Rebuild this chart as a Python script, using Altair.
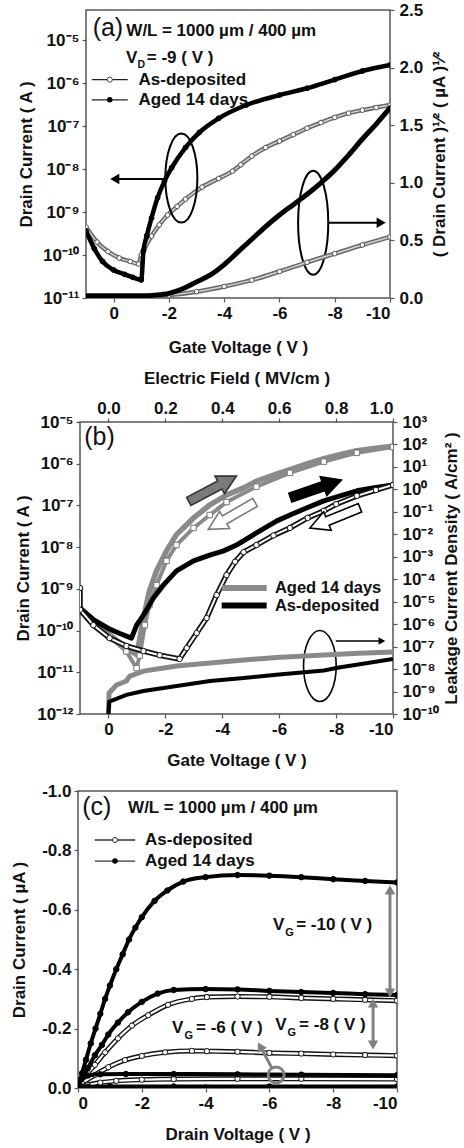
import altair as alt
import pandas as pd

FONT = "Liberation Sans"
SUPMAP = str.maketrans("-0123456789", "⁻⁰¹²³⁴⁵⁶⁷⁸⁹")

# ======================= DATA =======================
# ---- Panel (a): transfer curves, V_D = -9 V (log10 of drain current in A) ----
a_asdep_V = [1.0, 0.6, 0.2, -0.2, -0.6, -0.9, -1.0, -1.12, -1.37, -1.65, -1.95, -2.3, -2.6, -3.2,
             -3.8, -4.3, -4.6, -5.0, -5.5, -6.0, -6.5, -7.0, -7.5, -8.0, -8.5, -9.0, -9.5, -10.0]
a_asdep_logI = [-9.35, -9.7, -9.92, -10.07, -10.15, -10.21, -10.0, -9.84, -9.56, -9.3, -9.07, -8.87, -8.7,
                -8.42, -8.22, -8.05, -7.9, -7.7, -7.5, -7.35, -7.2, -7.05, -6.92, -6.8, -6.7, -6.63, -6.57, -6.51]
a_aged_V = [1.0, 0.7, 0.4, 0.0, -0.4, -0.7, -1.0, -1.08, -1.2, -1.37, -1.59, -1.84, -2.1, -2.6, -3.1,
            -3.8, -4.8, -6.0, -7.0, -8.0, -9.0, -10.0]
a_aged_logI = [-9.44, -9.85, -10.15, -10.35, -10.45, -10.52, -10.58, -9.9, -9.55, -9.14, -8.67, -8.28,
               -7.97, -7.5, -7.15, -6.82, -6.51, -6.28, -6.12, -5.92, -5.72, -5.58]
# sqrt(drain current) in uA^1/2
a_sq_aged_V = [1.0, 0.0, -1.0, -1.5, -2.0, -2.5, -3.0, -3.5, -4.0, -4.5, -5.0, -5.5, -6.0, -6.5, -7.0,
               -7.5, -8.0, -8.5, -9.0, -9.5, -10.0]
a_sq_aged = [0.02, 0.02, 0.02, 0.025, 0.04, 0.08, 0.14, 0.2, 0.29, 0.4, 0.51, 0.62, 0.72, 0.81, 0.9,
             1.0, 1.11, 1.24, 1.38, 1.51, 1.65]
a_sq_asdep_V = [1.0, 0.0, -1.0, -2.0, -3.0, -4.0, -5.0, -6.0, -7.0, -8.0, -9.0, -10.0]
a_sq_asdep = [0.01, 0.01, 0.01, 0.025, 0.055, 0.1, 0.155, 0.23, 0.31, 0.385, 0.46, 0.53]

# ---- Panel (b): hysteresis (log10 drain current, A) and leakage (log10 A/cm^2) ----
b_asdep_fwd_V = [1.0, 0.5, 0.0, -0.4, -0.81, -0.99, -1.23, -1.58, -1.93, -2.39, -2.99, -3.56, -4.05,
                 -4.5, -5.2, -5.92, -6.38, -7.0, -7.57, -8.2, -8.73, -9.4, -10.0]
b_asdep_fwd_logI = [-9.46, -9.75, -9.95, -10.07, -10.18, -9.87, -9.63, -9.22, -8.91, -8.57, -8.33, -8.19,
                    -8.09, -7.95, -7.66, -7.37, -7.23, -7.05, -6.89, -6.76, -6.65, -6.57, -6.51]
b_asdep_rev_V = [-10.0, -9.4, -8.73, -8.0, -7.57, -7.0, -6.38, -5.8, -5.2, -4.75, -4.45, -4.15, -3.8,
                 -3.45, -3.1, -2.75, -2.5, -1.8, -1.23, -0.63, -0.04, 0.53, 1.0, 1.0]
b_asdep_rev_logI = [-6.51, -6.63, -6.77, -6.97, -7.13, -7.3, -7.54, -7.72, -7.95, -8.12, -8.35, -8.67,
                    -9.15, -9.7, -10.06, -10.42, -10.68, -10.59, -10.49, -10.37, -10.18, -9.87, -9.5, -8.98]
b_aged_fwd_V = [1.0, 0.5, -0.04, -0.63, -0.99, -1.1, -1.23, -1.44, -1.69, -2.04, -2.39, -2.99, -3.56,
                -4.15, -4.75, -5.2, -5.9, -6.38, -7.0, -7.57, -8.2, -8.73, -9.4, -10.0]
b_aged_fwd_logI = [-9.46, -9.8, -10.1, -10.42, -10.58, -10.2, -9.7, -9.05, -8.57, -8.09, -7.7, -7.3,
                   -6.99, -6.75, -6.58, -6.42, -6.25, -6.14, -6.0, -5.88, -5.77, -5.69, -5.63, -5.58]
b_aged_rev_V = [-10.0, -8.73, -7.57, -6.38, -5.2, -4.15, -3.56, -2.99, -2.39, -2.04, -1.69, -1.44, -1.28,
                -1.1, -0.99, -0.63, -0.04, 0.5, 1.0]
b_aged_rev_logI = [-5.6, -5.74, -5.95, -6.22, -6.55, -6.92, -7.23, -7.54, -7.95, -8.33, -8.91, -9.39,
                   -9.87, -10.6, -10.9, -10.5, -10.15, -9.8, -9.5]
b_leak_aged_E = [0.0, 0.002, 0.028, 0.05, 0.063, 0.075, 0.123, 0.24, 0.357, 0.475, 0.59, 0.757, 0.88, 1.0]
b_leak_aged_logJ = [-10.0, -9.07, -8.71, -8.6, -8.53, -8.31, -8.09, -7.86, -7.73, -7.6, -7.48, -7.37, -7.3, -7.24]
b_leak_asdep_E = [0.0, 0.003, 0.063, 0.123, 0.24, 0.357, 0.475, 0.59, 0.757, 0.81, 0.9, 1.0]
b_leak_asdep_logJ = [-10.0, -9.45, -9.15, -8.98, -8.75, -8.53, -8.4, -8.25, -8.06, -7.93, -7.75, -7.55]

# ---- Panel (c): output curves (drain current, uA) ----
c_aged10_V = [0.0, -0.13, -0.25, -0.4, -0.55, -0.7, -0.85, -1.0, -1.2, -1.4, -1.6, -1.8, -2.0, -2.4, -2.8,
              -3.3, -4.0, -5.0, -6.0, -7.0, -8.0, -9.0, -10.0]
c_aged10_I = [0.0, -0.05, -0.095, -0.15, -0.2, -0.25, -0.3, -0.345, -0.4, -0.45, -0.5, -0.54, -0.575, -0.63,
              -0.665, -0.695, -0.71, -0.717, -0.715, -0.71, -0.703, -0.697, -0.692]
c_aged8_V = [0.0, -0.13, -0.31, -0.53, -0.75, -0.95, -1.25, -1.57, -2.0, -2.5, -3.0, -4.0, -5.0, -6.0, -7.0,
             -8.0, -9.0, -10.0]
c_aged8_I = [0.0, -0.034, -0.067, -0.11, -0.145, -0.18, -0.22, -0.255, -0.29, -0.318, -0.33, -0.333, -0.332,
             -0.327, -0.323, -0.32, -0.316, -0.313]
c_aged6_V = [0.0, -0.1, -0.31, -0.7, -1.5, -3.0, -5.0, -7.0, -10.0]
c_aged6_I = [0.0, -0.03, -0.042, -0.046, -0.047, -0.047, -0.046, -0.045, -0.043]
c_aged4_V = [0.0, -0.3, -1.0, -3.0, -6.0, -10.0]
c_aged4_I = [0.0, -0.004, -0.005, -0.005, -0.005, -0.005]
c_asdep10_V = [0.0, -0.13, -0.31, -0.53, -0.85, -1.25, -1.69, -2.2, -2.82, -3.57, -4.04, -5.0, -6.0, -7.0,
               -8.0, -9.0, -10.0]
c_asdep10_I = [0.0, -0.02, -0.05, -0.078, -0.12, -0.167, -0.21, -0.245, -0.28, -0.3, -0.306, -0.308, -0.307,
               -0.303, -0.3, -0.297, -0.294]
c_asdep8_V = [0.0, -0.13, -0.53, -0.95, -1.47, -2.0, -2.73, -3.57, -4.04, -5.0, -6.0, -7.0, -8.0, -9.0, -10.0]
c_asdep8_I = [0.0, -0.015, -0.044, -0.07, -0.094, -0.108, -0.12, -0.125, -0.124, -0.122, -0.118, -0.116,
              -0.113, -0.111, -0.109]
c_asdep6_V = [0.0, -0.3, -0.7, -1.2, -2.0, -3.0, -5.0, -7.0, -10.0]
c_asdep6_I = [0.0, -0.01, -0.018, -0.024, -0.028, -0.03, -0.031, -0.031, -0.03]
c_asdep4_V = [0.0, -1.0, -4.0, -7.0, -10.0]
c_asdep4_I = [0.0, -0.002, -0.002, -0.002, -0.002]

# ---- tick values ----
gate_ticks = [0, -2, -4, -6, -8, -10]
field_ticks = [0.0, 0.2, 0.4, 0.6, 0.8, 1.0]
sqrt_ticks = [0.0, 0.5, 1.0, 1.5, 2.0, 2.5]
cur_c_ticks = [0.0, -0.2, -0.4, -0.6, -0.8, -1.0]

# ---- annotation anchors (data coordinates) ----
a_txt_bold_t = ["W/L = 1000 µm / 400 µm", "V", "D", "= -9 ( V )"]
a_txt_bold_V = [-0.46, -0.45, -0.86, -1.2]
a_txt_bold_logI = [-4.9, -5.53, -5.64, -5.53]
a_txt_bold_fs = [17, 17, 10.5, 17]
a_leg_t = ["As-deposited", "Aged 14 days"]
a_leg_logI = [-5.92, -6.39]

b_leg_t = ["Aged 14 days", "As-deposited"]
b_leg_logI = [-8.98, -9.4]
b_leg_col = ["#8a8a8a", "#000000"]
b_arrow_V = [-3.66, -4.33, -7.29, -7.96]
b_arrow_logI = [-6.6, -7.25, -6.6, -7.3]
b_arrow_ang = [332, 150, 341, 158]
b_arrow_fill = ["#7a7a7a", "#ffffff", "#000000", "#ffffff"]
b_arrow_stroke = ["#333333", "#7a7a7a", "#000000", "#000000"]

c_txt_t = ["W/L = 1000 µm / 400 µm", "V", "G", "= -10 ( V )", "V", "G", "= -8 ( V )", "V", "G", "= -6 ( V )"]
c_txt_V = [-1.57, -6.11, -6.5, -6.84, -6.18, -6.57, -6.93, -2.95, -3.34, -3.7]
c_txt_I = [-0.926, -0.532, -0.512, -0.532, -0.195, -0.175, -0.195, -0.185, -0.165, -0.185]
c_txt_fs = [17, 17, 11, 17, 17, 11, 17, 17, 11, 17]
c_leg_t = ["As-deposited", "Aged 14 days"]
c_leg_I = [-0.835, -0.764]

# left offsets of each panel row (spacer widths, px)
row_offsets = [14, 11, 7]

# ======================= HELPERS =======================
NEG_INT = "datum.value == 0 ? '0' : '-' + format(-datum.value, 'd')"
NEG_1F = "datum.value == 0 ? '0.0' : '-' + format(-datum.value, '.1f')"


def pow_labels(lo, hi):
    arr = ",".join("'10%s'" % str(e).translate(SUPMAP) for e in range(lo, hi + 1))
    return "[%s][round(log(datum.value) / LN10) - (%d)]" % (arr, lo)


def tenp(lst):
    return [10.0 ** e for e in lst]


def dfv(V, Y):
    d = pd.DataFrame({"V": V, "I": Y})
    d["k"] = range(len(d))
    return d


def line(df, X, Y, color, width, interp="linear"):
    return alt.Chart(df).mark_line(color=color, strokeWidth=width, interpolate=interp, clip=True,
                                   strokeJoin="round", strokeCap="round").encode(x=X, y=Y, order="k:Q")


def dots(df, X, Y, shape="circle", size=25, fill="black", stroke="black", sw=1.0):
    return alt.Chart(df).mark_point(shape=shape, size=size, filled=True, fill=fill, stroke=stroke,
                                    strokeWidth=sw, opacity=1, clip=True).encode(x=X, y=Y)


def texts(df, X, Y, weight="bold", baseline="alphabetic"):
    return alt.Chart(df).mark_text(font=FONT, fontWeight=weight, baseline=baseline, align="left",
                                   color="#111").encode(x=X, y=Y, text="t:N", size=alt.Size("fs:Q", scale=None))


def ellipse_path(rx):
    k = 0.5523
    return ("M0,-1C{a},-1 {r},{nk} {r},0C{r},{k} {a},1 0,1C{na},1 {nr},{k} {nr},0C{nr},{nk} {na},-1 0,-1Z"
            .format(a=round(k * rx, 3), r=rx, nk=-k, k=k, na=-round(k * rx, 3), nr=-rx))


def spacer(w):
    return alt.Chart(pd.DataFrame({"z": [0]})).mark_point(opacity=0).properties(
        width=w, height=10, view=alt.ViewBackground(stroke="transparent"))


BLOCK_ARROW = "M-1,-0.17L0.3,-0.17L0.3,-0.37L1,0L0.3,0.37L0.3,0.17L-1,0.17Z"
LOGFS = 17

# ======================= PANEL (a) =======================
SXA = alt.Scale(domain=[-10, 1], reverse=True, nice=False, zero=False)
AXA = alt.Axis(values=gate_ticks, labelExpr=NEG_INT, title="Gate Voltage ( V )", titlePadding=18)


def xa(f="V"):
    return alt.X(f + ":Q", scale=SXA, axis=AXA)


XA = xa()
YA = alt.Y("I:Q", scale=alt.Scale(type="log", domain=[1e-11, 10 ** -4.3], nice=False),
           axis=alt.Axis(values=tenp(range(-11, -4)), labelExpr=pow_labels(-11, -5), labelFontSize=LOGFS,
                         title="Drain Current ( A )", titlePadding=7))
YAR = alt.Y("I:Q", scale=alt.Scale(domain=[0, 2.5], nice=False, zero=True),
            axis=alt.Axis(orient="right", values=sqrt_ticks, format=".1f", labelPadding=5,
                          title="( Drain Current )¹⁄² ( µA )¹⁄²", titleAngle=270, titleBaseline="top",
                          titlePadding=9))

a_asdep = dfv(a_asdep_V, tenp(a_asdep_logI))
a_aged = dfv(a_aged_V, tenp(a_aged_logI))
a_sq1 = dfv(a_sq_aged_V, a_sq_aged)
a_sq2 = dfv(a_sq_asdep_V, a_sq_asdep)

a_txt = pd.DataFrame({"V": a_txt_bold_V, "I": tenp(a_txt_bold_logI), "t": a_txt_bold_t, "fs": a_txt_bold_fs})
a_lab = pd.DataFrame({"V": [0.76], "I": [10 ** -4.9], "t": ["(a)"], "fs": [25]})
a_leg = pd.DataFrame({"V": [-0.9, -0.9], "I": tenp(a_leg_logI), "t": a_leg_t, "fs": [17, 17],
                      "V2": [0.79, 0.79], "V1": [-0.51, -0.51], "Vm": [0.14, 0.14]})
a_ell = pd.DataFrame({"V": [-2.45, -7.22], "I": tenp([-8.21, -9.25])})
a_arr = pd.DataFrame({"V": [-1.91, -7.76], "V2": [-0.04, -9.68], "I": tenp([-8.23, -9.25])})

left_a = alt.layer(
    line(a_asdep, XA, YA, "#6a6a6a", 4.5, "monotone"),
    line(a_asdep, XA, YA, "#d4d4d4", 1.4, "monotone"),
    dots(a_asdep, XA, YA, size=22, fill="white", stroke="#555", sw=1),
    line(a_aged, XA, YA, "black", 4.5, "monotone"),
    dots(a_aged, XA, YA, size=24),
    texts(a_txt, XA, YA),
    texts(a_lab, XA, YA, weight="normal"),
    texts(a_leg, XA, YA, baseline="middle"),
    alt.Chart(a_leg).mark_rule(color="#222", strokeWidth=1.3).encode(x=xa("V1"), x2="V2:Q", y=YA),
    alt.Chart(a_leg.iloc[[0]]).mark_point(shape="circle", size=26, filled=True, fill="white", stroke="#444",
                                          strokeWidth=1, opacity=1).encode(x=xa("Vm"), y=YA),
    alt.Chart(a_leg.iloc[[1]]).mark_point(shape="circle", size=30, filled=True, fill="black", opacity=1)
    .encode(x=xa("Vm"), y=YA),
    alt.Chart(a_ell.iloc[[0]]).mark_point(shape=ellipse_path(0.36), size=7921, filled=False, stroke="black",
                                          strokeWidth=2, opacity=1).encode(x=XA, y=YA),
    alt.Chart(a_ell.iloc[[1]]).mark_point(shape=ellipse_path(0.29), size=10816, filled=False, stroke="black",
                                          strokeWidth=2, opacity=1).encode(x=XA, y=YA),
    alt.Chart(a_arr).mark_rule(color="black", strokeWidth=2).encode(x=XA, x2="V2:Q", y=YA),
    alt.Chart(a_arr.iloc[[0]]).mark_point(shape="triangle-left", size=110, filled=True, color="black", opacity=1)
    .encode(x=xa("V2"), y=YA),
    alt.Chart(a_arr.iloc[[1]]).mark_point(shape="triangle-right", size=110, filled=True, color="black", opacity=1)
    .encode(x=xa("V2"), y=YA),
)
right_a = alt.layer(
    line(a_sq2, XA, YAR, "#6a6a6a", 4.5, "monotone"),
    line(a_sq2, XA, YAR, "#d4d4d4", 1.4, "monotone"),
    dots(a_sq2, XA, YAR, size=22, fill="white", stroke="#555", sw=1),
    line(a_sq1, XA, YAR, "black", 5, "monotone"),
)
panel_a = alt.layer(left_a, right_a).resolve_scale(y="independent").properties(width=304, height=288)

# ======================= PANEL (b) =======================
SXB = alt.Scale(domain=[-10, 1], reverse=True, nice=False, zero=False)
AXB = alt.Axis(values=gate_ticks, labelExpr=NEG_INT, title="Gate Voltage ( V )", titlePadding=15)


def xb(f="V"):
    return alt.X(f + ":Q", scale=SXB, axis=AXB)


XB = xb()
YB = alt.Y("I:Q", scale=alt.Scale(type="log", domain=[1e-12, 1e-5], nice=False),
           axis=alt.Axis(values=tenp(range(-12, -4)), labelExpr=pow_labels(-12, -5), labelFontSize=LOGFS,
                         title="Drain Current ( A )", titlePadding=4))
XE = alt.X("E:Q", scale=alt.Scale(domain=[-0.1, 1.0], nice=False, zero=False),
           axis=alt.Axis(orient="top", values=field_ticks, format=".1f", title="Electric Field ( MV/cm )",
                         titlePadding=12, labelPadding=1))
YJ = alt.Y("J:Q", scale=alt.Scale(type="log", domain=[1e-10, 1e3], nice=False),
           axis=alt.Axis(orient="right", values=tenp(range(-10, 4)), labelExpr=pow_labels(-10, 3),
                         labelFontSize=LOGFS, labelPadding=5, title="Leakage Current Density ( A/cm² )",
                         titleAngle=270, titleBaseline="top", titlePadding=5))

b_af = dfv(b_aged_fwd_V, tenp(b_aged_fwd_logI))
b_ar = dfv(b_aged_rev_V, tenp(b_aged_rev_logI))
b_df = dfv(b_asdep_fwd_V, tenp(b_asdep_fwd_logI))
b_dr = dfv(b_asdep_rev_V, tenp(b_asdep_rev_logI))
b_l1 = pd.DataFrame({"E": b_leak_aged_E, "J": tenp(b_leak_aged_logJ)})
b_l2 = pd.DataFrame({"E": b_leak_asdep_E, "J": tenp(b_leak_asdep_logJ)})

b_lab = pd.DataFrame({"V": [0.85], "I": [10 ** -5.55], "t": ["(b)"], "fs": [25]})
b_leg = pd.DataFrame({"V": [-5.85, -5.85], "I": tenp(b_leg_logI), "t": b_leg_t, "fs": [16.5, 16.5],
                      "V1": [-3.98, -3.98], "V2": [-5.56, -5.56], "c": b_leg_col})
b_arw = pd.DataFrame({"V": b_arrow_V, "I": tenp(b_arrow_logI), "ang": b_arrow_ang, "fc": b_arrow_fill,
                      "sc": b_arrow_stroke})
b_ell = pd.DataFrame({"V": [-7.43], "I": [10 ** -10.85]})
b_arr = pd.DataFrame({"V": [-7.99], "V2": [-9.61], "I": [10 ** -10.25]})

main_b = alt.layer(
    line(b_af, XB, YB, "#8a8a8a", 5.5),
    line(b_ar, XB, YB, "#8a8a8a", 4),
    dots(b_ar, XB, YB, shape="square", size=30, fill="white", stroke="#777", sw=1),
    line(b_df, XB, YB, "black", 5),
    line(b_dr, XB, YB, "#111", 5.5),
    line(b_dr, XB, YB, "white", 2),
    dots(b_dr, XB, YB, size=30, fill="white", stroke="#111", sw=1),
    texts(b_lab, XB, YB, weight="normal"),
    texts(b_leg, XB, YB, baseline="middle"),
    alt.Chart(b_leg).mark_rule(strokeWidth=6).encode(x=xb("V1"), x2="V2:Q", y=YB,
                                                     color=alt.Color("c:N", scale=None)),
    alt.Chart(b_arw).mark_point(shape=BLOCK_ARROW, size=2916, filled=True, strokeWidth=1.6, opacity=1)
    .encode(x=XB, y=YB, angle=alt.Angle("ang:Q", scale=None), fill=alt.Fill("fc:N", scale=None),
            stroke=alt.Stroke("sc:N", scale=None)),
    alt.Chart(b_ell).mark_point(shape=ellipse_path(0.46), size=5041, filled=False, stroke="black",
                                strokeWidth=1.6, opacity=1).encode(x=XB, y=YB),
    alt.Chart(b_arr).mark_rule(color="black", strokeWidth=1.3).encode(x=XB, x2="V2:Q", y=YB),
    alt.Chart(b_arr).mark_point(shape="triangle-right", size=60, filled=True, color="black", opacity=1)
    .encode(x=xb("V2"), y=YB),
)
leak_b = alt.layer(
    alt.Chart(b_l1).mark_line(color="#8a8a8a", strokeWidth=5, clip=True).encode(x=XE, y=YJ),
    alt.Chart(b_l2).mark_line(color="black", strokeWidth=4, clip=True).encode(x=XE, y=YJ),
)
panel_b = alt.layer(main_b, leak_b).resolve_scale(x="independent", y="independent").properties(width=313, height=292)

# ======================= PANEL (c) =======================
SXC = alt.Scale(domain=[-10, 0], reverse=True, nice=False, zero=False)
AXC = alt.Axis(values=gate_ticks, labelExpr=NEG_INT, title="Drain Voltage ( V )", titlePadding=15)


def xc(f="V"):
    return alt.X(f + ":Q", scale=SXC, axis=AXC)


XC = xc()
YC = alt.Y("I:Q", scale=alt.Scale(domain=[-1, 0], reverse=True, nice=False, zero=False),
           axis=alt.Axis(values=cur_c_ticks, labelExpr=NEG_1F, title="Drain Current ( µA )", titlePadding=13))

aged_c = [dfv(c_aged10_V, c_aged10_I), dfv(c_aged8_V, c_aged8_I), dfv(c_aged6_V, c_aged6_I),
          dfv(c_aged4_V, c_aged4_I)]
asdep_c = [dfv(c_asdep10_V, c_asdep10_I), dfv(c_asdep8_V, c_asdep8_I), dfv(c_asdep6_V, c_asdep6_I),
           dfv(c_asdep4_V, c_asdep4_I)]

c_layers = []
for d in asdep_c:
    c_layers += [line(d, XC, YC, "#111", 5, "monotone"), line(d, XC, YC, "white", 2.2, "monotone"),
                 dots(d, XC, YC, size=28, fill="white", stroke="#111", sw=1)]
for d in aged_c:
    c_layers += [line(d, XC, YC, "black", 4, "monotone"), dots(d, XC, YC, size=30)]

c_txt = pd.DataFrame({"V": c_txt_V, "I": c_txt_I, "t": c_txt_t, "fs": c_txt_fs})
c_lab = pd.DataFrame({"V": [-0.13], "I": [-0.919], "t": ["(c)"], "fs": [25]})
c_leg = pd.DataFrame({"V": [-2.1, -2.1], "I": c_leg_I, "t": c_leg_t, "fs": [17, 17],
                      "V1": [-0.53, -0.53], "V2": [-1.79, -1.79], "Vm": [-1.16, -1.16]})
c_vr = pd.DataFrame({"V": [-9.78, -9.25], "I": [-0.667, -0.286], "I2": [-0.32, -0.145]})
c_up = pd.DataFrame({"V": [-9.78, -9.25], "I": [-0.667, -0.286]})
c_dn = pd.DataFrame({"V": [-9.78, -9.25], "I": [-0.32, -0.145]})
c_ring = pd.DataFrame({"V": [-6.21], "I": [-0.044]})
c_diag = pd.DataFrame({"V": [-6.08], "I": [-0.067], "V2": [-5.74], "I2": [-0.135]})
c_head = pd.DataFrame({"V": [-5.71], "I": [-0.14]})

GRAY = "#808080"
c_layers += [
    texts(c_txt, XC, YC),
    texts(c_lab, XC, YC, weight="normal"),
    texts(c_leg, XC, YC, baseline="middle"),
    alt.Chart(c_leg).mark_rule(color="#333", strokeWidth=1.3).encode(x=xc("V1"), x2="V2:Q", y=YC),
    alt.Chart(c_leg.iloc[[0]]).mark_point(shape="circle", size=26, filled=True, fill="white", stroke="#333",
                                          strokeWidth=1, opacity=1).encode(x=xc("Vm"), y=YC),
    alt.Chart(c_leg.iloc[[1]]).mark_point(shape="circle", size=30, filled=True, fill="black", opacity=1)
    .encode(x=xc("Vm"), y=YC),
    alt.Chart(c_vr).mark_rule(color=GRAY, strokeWidth=3).encode(x=XC, y=YC, y2="I2:Q"),
    alt.Chart(c_up).mark_point(shape="triangle-up", size=110, filled=True, color=GRAY, opacity=1).encode(x=XC, y=YC),
    alt.Chart(c_dn).mark_point(shape="triangle-down", size=110, filled=True, color=GRAY, opacity=1).encode(x=XC, y=YC),
    alt.Chart(c_ring).mark_point(shape="circle", size=256, filled=False, stroke=GRAY, strokeWidth=3, opacity=1)
    .encode(x=XC, y=YC),
    alt.Chart(c_diag).mark_rule(color=GRAY, strokeWidth=3).encode(x=XC, y=YC, x2="V2:Q", y2="I2:Q"),
    alt.Chart(c_head).mark_point(shape="triangle-up", size=110, filled=True, color=GRAY, opacity=1, angle=331)
    .encode(x=XC, y=YC),
]
panel_c = alt.layer(*c_layers).properties(width=319, height=297)

# ======================= ASSEMBLY =======================
rows = [alt.hconcat(spacer(w), p, spacing=0) for w, p in zip(row_offsets, [panel_a, panel_b, panel_c])]
chart = (
    alt.vconcat(*rows, spacing=12)
    .properties(padding={"left": 0, "top": 0, "right": 0, "bottom": 0})
    .configure(font=FONT)
    .configure_axis(labelFont=FONT, titleFont=FONT, labelFontSize=17, titleFontSize=17, labelFontWeight="bold",
                    titleFontWeight="bold", labelColor="#111", titleColor="#111", grid=False, domain=False,
                    tickColor="#555", tickSize=4, tickWidth=1.2, labelPadding=3)
    .configure_view(stroke="#555", strokeWidth=1.5)
)
chart.save("out.html", embed_options={"renderer": "svg", "actions": False})
